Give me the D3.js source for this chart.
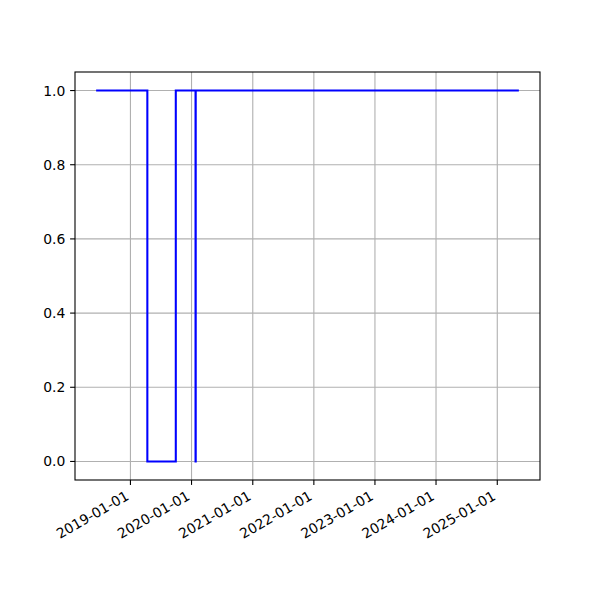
<!DOCTYPE html>
<html><head><meta charset="utf-8">
<script src="https://cdn.jsdelivr.net/npm/d3@7"></script>
<style>body{margin:0;background:#fff}svg{display:block}text{font-family:"DejaVu Sans",sans-serif}</style>
</head><body>
<script>
const dates = ["2018-06-10","2019-04-12","2019-09-29","2020-01-25","2020-01-26","2025-05-10"];
const values = [1, 0, 1, 0, 1, 1];
const yTicks = [0.0, 0.2, 0.4, 0.6, 0.8, 1.0];
const xTickLabels = ["2019-01-01","2020-01-01","2021-01-01","2022-01-01","2023-01-01","2024-01-01","2025-01-01"];

const W = 600, H = 600;
const L = 75, R = 540, T = 72, B = 480;
const parse = d3.utcParse("%Y-%m-%d");
const data = dates.map((d,i)=>({x:parse(d), y:values[i]}));

const svg = d3.select("body").append("svg").attr("width",W).attr("height",H);
svg.append("rect").attr("width",W).attr("height",H).attr("fill","#fff");

const x0 = data[0].x, x1 = data[data.length-1].x;
const span = x1 - x0;
const x = d3.scaleUtc().domain([new Date(+x0 - span*0.05), new Date(+x1 + span*0.05)]).range([L,R]);
const y = d3.scaleLinear().domain([-0.05,1.05]).range([B,T]);

const xt = xTickLabels.map(parse);
const g = svg.append("g");
// grid
g.selectAll(".gx").data(xt).join("line").attr("x1",d=>x(d)).attr("x2",d=>x(d)).attr("y1",T).attr("y2",B).attr("stroke","#b0b0b0").attr("stroke-width",1.1);
g.selectAll(".gy").data(yTicks).join("line").attr("x1",L).attr("x2",R).attr("y1",d=>y(d)).attr("y2",d=>y(d)).attr("stroke","#b0b0b0").attr("stroke-width",1.1);

// line
const line = d3.line().x(d=>x(d.x)).y(d=>y(d.y)).curve(d3.curveStepAfter);
svg.append("path").datum(data).attr("d",line).attr("fill","none").attr("stroke","#0000ff").attr("stroke-width",2.08).attr("stroke-linejoin","miter").attr("stroke-linecap","butt");

// spines
svg.append("rect").attr("x",L).attr("y",T).attr("width",R-L).attr("height",B-T).attr("fill","none").attr("stroke","#000").attr("stroke-width",1.1);

// y axis ticks
const yg = svg.append("g");
yTicks.forEach(v=>{
  yg.append("line").attr("x1",L-4.9).attr("x2",L).attr("y1",y(v)).attr("y2",y(v)).attr("stroke","#000").attr("stroke-width",1.1);
  yg.append("text").attr("x",L-9.7).attr("y",y(v)).attr("dy","0.36em").attr("text-anchor","end").attr("font-size",13.9).attr("fill","#000").text(v.toFixed(1));
});
// x axis ticks
const fmt = d3.utcFormat("%Y-%m-%d");
xt.forEach(d=>{
  const px = x(d);
  svg.append("line").attr("x1",px).attr("x2",px).attr("y1",B).attr("y2",B+4.9).attr("stroke","#000").attr("stroke-width",1.1);
  const a = 10.4, dsc = 3.2;
  svg.append("text").attr("transform",`translate(${px - dsc/2 + 1},${B+9.7+0.866*a}) rotate(-30)`)
    .attr("text-anchor","end").attr("font-size",13.9).attr("fill","#000").text(fmt(d));
});
</script>
</body></html>
